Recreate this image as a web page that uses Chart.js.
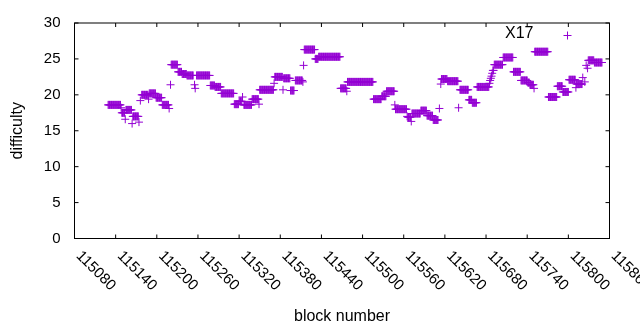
<!DOCTYPE html>
<html>
<head>
<meta charset="utf-8">
<script src="https://cdn.jsdelivr.net/npm/chart.js@4/dist/chart.umd.min.js"></script>
<style>
  html, body { margin: 0; padding: 0; background: #fff; }
  #wrap { width: 640px; height: 330px; }
</style>
</head>
<body>
<div id="wrap"><canvas id="chart" width="640" height="330"></canvas></div>
<script>
// runs of blocks with the same difficulty (start block, end block, value)
const runStart = [
  115129, 115148, 115149, 115154, 115155, 115164, 115165, 115174, 115176, 115178,
  115188, 115189, 115199, 115208, 115218, 115220, 115221, 115231, 115237, 115244,
  115255, 115256, 115258, 115278, 115285, 115294, 115313, 115320, 115325, 115327,
  115339, 115349, 115350, 115371, 115372, 115384, 115385, 115395, 115402, 115413,
  115414, 115415, 115431, 115436, 115468, 115477, 115478, 115516, 115528, 115535,
  115547, 115548, 115565, 115566, 115571, 115572, 115585, 115594, 115603, 115612,
  115614, 115615, 115624, 115640, 115642, 115655, 115660, 115667, 115685, 115686,
  115687, 115688, 115689, 115690, 115692, 115705, 115720, 115731, 115741, 115744,
  115750, 115751, 115771, 115784, 115792, 115801, 115811, 115812, 115821, 115824,
  115826, 115828, 115829, 115838
];
const runEnd = [
  115147, 115148, 115153, 115154, 115163, 115164, 115173, 115174, 115176, 115187,
  115188, 115198, 115207, 115217, 115218, 115220, 115230, 115236, 115243, 115253,
  115255, 115256, 115277, 115284, 115293, 115312, 115319, 115324, 115325, 115338,
  115348, 115349, 115370, 115371, 115383, 115384, 115394, 115400, 115412, 115413,
  115414, 115430, 115435, 115467, 115476, 115477, 115515, 115527, 115534, 115546,
  115547, 115564, 115565, 115570, 115571, 115584, 115593, 115602, 115610, 115612,
  115614, 115623, 115639, 115640, 115654, 115659, 115666, 115684, 115685, 115686,
  115687, 115688, 115689, 115691, 115704, 115719, 115730, 115740, 115743, 115749,
  115750, 115770, 115783, 115791, 115800, 115810, 115811, 115820, 115821, 115824,
  115826, 115828, 115837, 115849
];
const runDifficulty = [
  18.6, 18.2, 17.5, 16.6, 17.9, 16.0, 17.0, 16.2, 19.2, 20.0,
  19.4, 20.2, 19.6, 18.6, 18.1, 21.4, 24.2, 23.2, 22.9, 22.7,
  21.4, 20.9, 22.7, 21.3, 21.1, 20.2, 18.7, 19.1, 19.7, 18.6,
  19.4, 18.7, 20.7, 21.6, 22.5, 20.7, 22.3, 20.6, 22.0, 21.8,
  24.1, 26.3, 25.0, 25.3, 20.9, 20.5, 21.8, 19.4, 19.8, 20.5,
  18.6, 18.0, 17.0, 16.9, 16.3, 17.4, 17.8, 17.1, 16.5, 18.1,
  21.5, 22.2, 21.9, 18.2, 20.7, 19.3, 18.9, 21.1, 21.6, 22.0,
  22.3, 22.6, 23.0, 23.4, 24.2, 25.2, 23.2, 22.0, 21.7, 21.4,
  20.9, 26.0, 19.7, 21.2, 20.4, 22.1, 21.0, 21.5, 22.4, 21.8,
  24.1, 23.7, 24.8, 24.5
];
const xTicks = [115080, 115140, 115200, 115260, 115320, 115380, 115440,
  115500, 115560, 115620, 115680, 115740, 115800, 115860];
const yTicks = [0, 5, 10, 15, 20, 25, 30];
const seriesName = "X17";

const purple = "#9400d3";
const font = '"Liberation Sans", Arial, sans-serif';

const points = [];
runStart.forEach((s, i) => {
  for (let b = s; b <= runEnd[i]; b++) points.push({ x: b, y: runDifficulty[i] });
});

const plus = (ctx, x, y, r) => {
  ctx.beginPath();
  ctx.moveTo(x - r, y); ctx.lineTo(x + r, y);
  ctx.moveTo(x, y - r); ctx.lineTo(x, y + r);
  ctx.stroke();
};

// gnuplot-like frame: border, inward ticks, slanted x labels, key
const gnuplotFrame = {
  id: "gnuplotFrame",
  afterDraw(chart) {
    const { ctx, chartArea: a, scales: { x, y } } = chart;
    const tl = 4;
    ctx.save();
    ctx.strokeStyle = "#000";
    ctx.lineWidth = 1;
    ctx.strokeRect(a.left, a.top, a.right - a.left, a.bottom - a.top);
    ctx.beginPath();
    y.ticks.forEach(t => {
      const py = y.getPixelForValue(t.value);
      ctx.moveTo(a.left, py); ctx.lineTo(a.left + tl, py);
      ctx.moveTo(a.right, py); ctx.lineTo(a.right - tl, py);
    });
    x.ticks.forEach(t => {
      const px = x.getPixelForValue(t.value);
      ctx.moveTo(px, a.bottom); ctx.lineTo(px, a.bottom - tl);
      ctx.moveTo(px, a.top); ctx.lineTo(px, a.top + tl);
    });
    ctx.stroke();

    ctx.fillStyle = "#000";
    ctx.font = "15px " + font;
    ctx.textAlign = "left";
    ctx.textBaseline = "middle";
    x.ticks.forEach(t => {
      const px = x.getPixelForValue(t.value);
      ctx.save();
      ctx.translate(px + 4, a.bottom + 15);
      ctx.rotate(Math.PI / 4);
      ctx.fillText(String(t.value), 0, 0);
      ctx.restore();
    });

    ctx.font = "16px " + font;
    ctx.textAlign = "right";
    ctx.fillText(seriesName, a.right - 76, a.top + 11);
    ctx.strokeStyle = purple;
    plus(ctx, a.right - 42, a.top + 12.5, 4);
    ctx.restore();
  },
};

new Chart(document.getElementById("chart"), {
  type: "scatter",
  data: {
    datasets: [
      {
        label: seriesName,
        data: points,
        pointStyle: "cross",
        pointRadius: 4,
        pointBorderWidth: 1,
        borderColor: purple,
        backgroundColor: purple,
        showLine: false,
      },
    ],
  },
  options: {
    responsive: false,
    animation: false,
    events: [],
    layout: { padding: { top: 19.5, right: 30.5, left: 0, bottom: 0 } },
    plugins: { legend: { display: false }, tooltip: { enabled: false } },
    scales: {
      x: {
        type: "linear",
        min: 115080,
        max: 115860,
        afterBuildTicks: s => { s.ticks = xTicks.map(v => ({ value: v })); },
        afterFit: s => { s.height = 91.5; },
        grid: { display: false, drawTicks: false },
        border: { display: false },
        ticks: { display: false },
        title: {
          display: true,
          text: "block number",
          color: "#000",
          font: { family: font, size: 16 },
          padding: { top: 0, bottom: 4 },
        },
      },
      y: {
        min: 0,
        max: 30,
        afterBuildTicks: s => { s.ticks = yTicks.map(v => ({ value: v })); },
        afterFit: s => { s.width = 74.5; },
        grid: { display: false, drawTicks: false },
        border: { display: false },
        ticks: { color: "#000", padding: 14, font: { family: font, size: 15 } },
        title: {
          display: true,
          text: "difficulty",
          color: "#000",
          font: { family: font, size: 16 },
          padding: { top: 8, bottom: 0 },
        },
      },
    },
  },
  plugins: [gnuplotFrame],
});
</script>
</body>
</html>
